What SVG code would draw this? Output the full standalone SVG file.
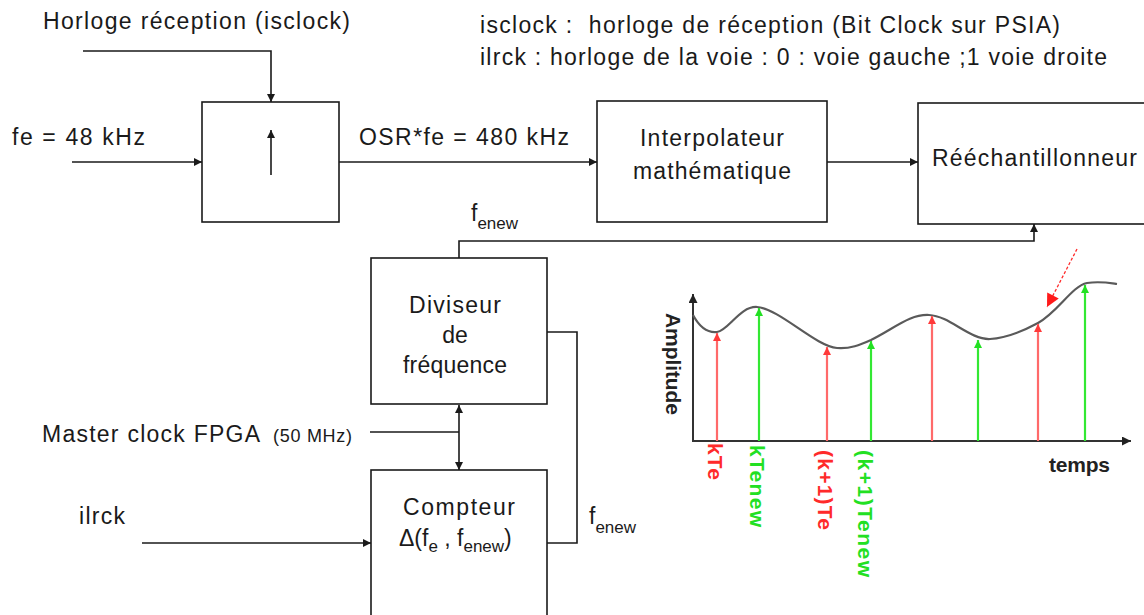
<svg xmlns="http://www.w3.org/2000/svg" width="1144" height="615" viewBox="0 0 1144 615">
  <defs>
    <style>
      .t { font-family: "Liberation Sans", Arial, sans-serif; font-size: 23px; fill: #1a1a1a; }
      .s { font-size: 17px; }
      .small { font-size: 18px; }
      .box { fill: #ffffff; stroke: #1a1a1a; stroke-width: 1.6; }
      .wire { fill: none; stroke: #1a1a1a; stroke-width: 1.6; }
      .axis { fill: none; stroke: #333333; stroke-width: 2; }
      .curve { fill: none; stroke: #5a5a5a; stroke-width: 2.2; }
      .red { stroke: #ff6a6a; stroke-width: 2.2; fill: none; }
      .green { stroke: #33e833; stroke-width: 2.2; fill: none; }
      .lab { font-family: "Liberation Sans", Arial, sans-serif; font-size: 21px; font-weight: bold; }
    </style>
    <marker id="arr" viewBox="0 0 10 10" refX="10" refY="5" markerWidth="9" markerHeight="8" markerUnits="userSpaceOnUse" orient="auto-start-reverse">
      <path d="M0,0 L10,5 L0,10 z" fill="#1a1a1a"/>
    </marker>
    <marker id="arrAxis" viewBox="0 0 10 10" refX="10" refY="5" markerWidth="11" markerHeight="9" markerUnits="userSpaceOnUse" orient="auto">
      <path d="M0,0 L10,5 L0,10 z" fill="#222222"/>
    </marker>
    <marker id="arrRed" viewBox="0 0 10 10" refX="10" refY="5" markerWidth="8" markerHeight="8" markerUnits="userSpaceOnUse" orient="auto">
      <path d="M0,0 L10,5 L0,10 z" fill="#ff3a3a"/>
    </marker>
    <marker id="arrGreen" viewBox="0 0 10 10" refX="10" refY="5" markerWidth="8" markerHeight="8" markerUnits="userSpaceOnUse" orient="auto">
      <path d="M0,0 L10,5 L0,10 z" fill="#22e022"/>
    </marker>
    <marker id="arrPointer" viewBox="0 0 10 10" refX="10" refY="5" markerWidth="14" markerHeight="13" markerUnits="userSpaceOnUse" orient="auto">
      <path d="M0,0 L10,5 L0,10 z" fill="#ff1a1a"/>
    </marker>
  </defs>

  <rect width="1144" height="615" fill="#ffffff"/>

  <!-- legend -->
  <g id="legend">
    <text class="t" x="480" y="33" textLength="580" lengthAdjust="spacing" style="white-space:pre">isclock :  horloge de réception (Bit Clock sur PSIA)</text>
    <text class="t" x="480" y="65" textLength="627" lengthAdjust="spacing">ilrck : horloge de la voie : 0 : voie gauche ;1 voie droite</text>
  </g>

  <!-- input labels -->
  <g id="labels">
    <text class="t" x="43" y="29" textLength="307" lengthAdjust="spacing">Horloge réception (isclock)</text>
    <text class="t" x="12" y="145" textLength="133" lengthAdjust="spacing">fe = 48 kHz</text>
    <text class="t" x="359" y="145" textLength="210" lengthAdjust="spacing">OSR*fe = 480 kHz</text>
    <text class="t" x="471" y="221">f<tspan class="s" dy="8">enew</tspan></text>
    <text class="t" x="42" y="442" textLength="218" lengthAdjust="spacing">Master clock FPGA</text>
    <text class="t small" x="273" y="442" textLength="79" lengthAdjust="spacing">(50 MHz)</text>
    <text class="t" x="79" y="524" textLength="46" lengthAdjust="spacing">ilrck</text>
    <text class="t" x="589" y="524">f<tspan class="s" dy="9">enew</tspan></text>
  </g>

  <!-- blocks -->
  <g id="upsampler">
    <rect class="box" x="202" y="102" width="137" height="120"/>
    <line class="wire" x1="271" y1="175" x2="271" y2="130" marker-end="url(#arr)"/>
  </g>
  <g id="interpolateur">
    <rect class="box" x="597" y="101" width="230" height="121"/>
    <text class="t" x="712" y="146" text-anchor="middle" textLength="144" lengthAdjust="spacing">Interpolateur</text>
    <text class="t" x="712" y="179" text-anchor="middle" textLength="158" lengthAdjust="spacing">mathématique</text>
  </g>
  <g id="reechantillonneur">
    <rect class="box" x="918" y="103" width="240" height="121"/>
    <text class="t" x="932" y="166" textLength="205" lengthAdjust="spacing">Rééchantillonneur</text>
  </g>
  <g id="diviseur">
    <rect class="box" x="371" y="258" width="176" height="146"/>
    <text class="t" x="455" y="313" text-anchor="middle" textLength="92" lengthAdjust="spacing">Diviseur</text>
    <text class="t" x="455" y="343" text-anchor="middle">de</text>
    <text class="t" x="455" y="373" text-anchor="middle" textLength="104" lengthAdjust="spacing">fréquence</text>
  </g>
  <g id="compteur">
    <rect class="box" x="371" y="470" width="176" height="160"/>
    <text class="t" x="459" y="515" text-anchor="middle" textLength="112" lengthAdjust="spacing">Compteur</text>
    <text class="t" x="399" y="546">Δ(f<tspan class="s" dy="6">e</tspan><tspan dy="-6"> , f</tspan><tspan class="s" dy="6">enew</tspan><tspan dy="-6">)</tspan></text>
  </g>

  <!-- connectors -->
  <g id="connectors">
    <polyline class="wire" points="83,51 271,51 271,102" marker-end="url(#arr)"/>
    <line class="wire" x1="72" y1="162" x2="202" y2="162" marker-end="url(#arr)"/>
    <line class="wire" x1="339" y1="162" x2="597" y2="162" marker-end="url(#arr)"/>
    <line class="wire" x1="827" y1="162" x2="918" y2="162" marker-end="url(#arr)"/>
    <polyline class="wire" points="459,258 459,241 1034,241 1034,224" marker-end="url(#arr)"/>
    <polyline class="wire" points="547,332 577,332 577,543 547,543"/>
    <line class="wire" x1="370" y1="432" x2="459" y2="432"/>
    <line class="wire" x1="459" y1="405" x2="459" y2="470" marker-start="url(#arr)" marker-end="url(#arr)"/>
    <line class="wire" x1="142" y1="543" x2="371" y2="543" marker-end="url(#arr)"/>
  </g>

  <!-- sampling chart -->
  <g id="chart">
    <line class="axis" x1="693" y1="441" x2="693" y2="294" marker-end="url(#arrAxis)"/>
    <line class="axis" x1="692" y1="441" x2="1131" y2="441" marker-end="url(#arrAxis)"/>
    <path class="curve" d="M693,315 C700,328 708,333 717,332 C728,331 740,306 757,307 C780,309 815,346 837,348 C850,349 860,345 871,340 C895,328 910,314 929,315 C950,316 970,340 990,339 C1008,338 1025,330 1038,323 C1058,312 1072,286 1087,283 C1100,281 1110,283 1117,284"/>

    <line class="red" x1="717" y1="441" x2="717" y2="333" marker-end="url(#arrRed)"/>
    <line class="green" x1="759" y1="441" x2="759" y2="308" marker-end="url(#arrGreen)"/>
    <line class="red" x1="827" y1="441" x2="827" y2="347" marker-end="url(#arrRed)"/>
    <line class="green" x1="871" y1="441" x2="871" y2="341" marker-end="url(#arrGreen)"/>
    <line class="red" x1="932" y1="441" x2="932" y2="316" marker-end="url(#arrRed)"/>
    <line class="green" x1="978" y1="441" x2="978" y2="340" marker-end="url(#arrGreen)"/>
    <line class="red" x1="1038" y1="441" x2="1038" y2="324" marker-end="url(#arrRed)"/>
    <line class="green" x1="1085" y1="441" x2="1085" y2="285" marker-end="url(#arrGreen)"/>

    <line x1="1077" y1="249" x2="1047" y2="307" stroke="#ff2a2a" stroke-width="1.3" stroke-dasharray="3,2" marker-end="url(#arrPointer)"/>

    <text class="lab" x="666" y="313" fill="#222222" transform="rotate(90 666 313)" textLength="102" lengthAdjust="spacing">Amplitude</text>
    <text class="lab" x="1049" y="472" fill="#222222" textLength="61" lengthAdjust="spacing">temps</text>
    <text class="lab" x="708" y="443" fill="#ff2a2a" transform="rotate(90 708 443)" textLength="37" lengthAdjust="spacing">kTe</text>
    <text class="lab" x="750" y="445" fill="#22e022" transform="rotate(90 750 445)" textLength="82" lengthAdjust="spacing">kTenew</text>
    <text class="lab" x="818" y="450" fill="#ff2a2a" transform="rotate(90 818 450)" textLength="80" lengthAdjust="spacing">(k+1)Te</text>
    <text class="lab" x="858" y="450" fill="#22e022" transform="rotate(90 858 450)" textLength="127" lengthAdjust="spacing">(k+1)Tenew</text>
  </g>
</svg>
